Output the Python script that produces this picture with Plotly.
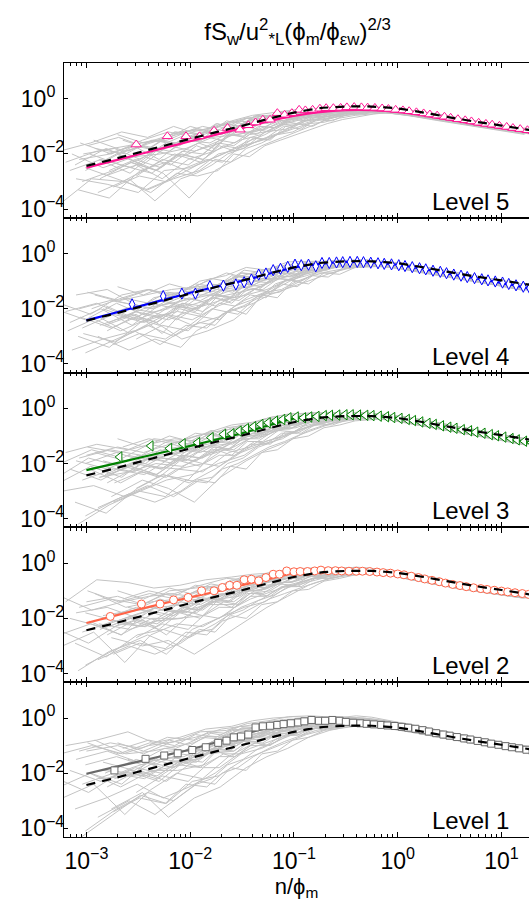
import plotly.graph_objects as go
from plotly.subplots import make_subplots

# ---------------- data (all values are log10) ----------------
LEVELS = ["Level 5", "Level 4", "Level 3", "Level 2", "Level 1"]

# fitted model curves, sampled at FIT_LOGX (log10 n/phi_m)
FIT_LOGX = [-3.0, -2.75, -2.5, -2.25, -2.0, -1.75, -1.5, -1.25, -1.0, -0.75,
            -0.5, -0.25, 0.0, 0.25, 0.5, 0.75, 1.0, 1.27]
DASHED_REF = [-2.43, -2.20, -1.95, -1.70, -1.45, -1.21, -0.98, -0.73, -0.50, -0.34,
              -0.28, -0.28, -0.35, -0.50, -0.67, -0.83, -0.97, -1.13]
FIT_L5 = [-2.50, -2.26, -2.02, -1.78, -1.54, -1.30, -1.06, -0.82, -0.62, -0.48,
          -0.41, -0.41, -0.47, -0.60, -0.76, -0.92, -1.06, -1.22]
FIT_L4 = [-2.42, -2.17, -1.92, -1.67, -1.42, -1.20, -0.99, -0.74, -0.50, -0.37,
          -0.30, -0.32, -0.41, -0.56, -0.74, -0.90, -1.06, -1.27]
FIT_L3 = [-2.24, -2.02, -1.80, -1.58, -1.36, -1.13, -0.90, -0.62, -0.36, -0.27,
          -0.24, -0.26, -0.35, -0.52, -0.70, -0.87, -1.04, -1.24]
FIT_L2 = [-2.17, -1.93, -1.68, -1.45, -1.24, -1.03, -0.80, -0.58, -0.35, -0.26,
          -0.24, -0.28, -0.38, -0.57, -0.76, -0.92, -1.06, -1.20]
FIT_L1 = [-2.02, -1.80, -1.58, -1.36, -1.14, -0.88, -0.60, -0.36, -0.21, -0.12,
          -0.09, -0.17, -0.30, -0.47, -0.65, -0.82, -0.99, -1.17]

# bin-averaged spectra (markers): shared frequency bins, shifted per level by phi_m
MARKER_BIN_LOG = [0.00, 0.30, 0.48, 0.61, 0.75, 0.88, 1.00, 1.08, 1.15, 1.22, 1.29, 1.36,
                  1.43, 1.50, 1.57, 1.63, 1.70, 1.77, 1.83, 1.90, 1.97, 2.03, 2.10, 2.17,
                  2.23, 2.30, 2.37, 2.43, 2.50, 2.57, 2.63, 2.70, 2.77, 2.83, 2.90, 2.97,
                  3.03, 3.10, 3.17, 3.23, 3.30, 3.37, 3.43, 3.50, 3.57, 3.63, 3.70, 3.77,
                  3.83, 3.90, 3.97, 4.03, 4.10]
MARKER_SHIFT = [-2.52, -2.56, -2.68, -2.77, -2.73]
MARK_L5 = [-1.66, -1.36, -1.36, -1.36, -1.16, -1.06, -1.12, -0.96, -0.86, -0.76, -0.76, -0.52,
           -0.58, -0.52, -0.40, -0.42, -0.40, -0.36, -0.34, -0.34, -0.33, -0.31, -0.30, -0.31,
           -0.32, -0.33, -0.35, -0.37, -0.40, -0.42, -0.45, -0.49, -0.53, -0.57, -0.61, -0.65,
           -0.69, -0.74, -0.78, -0.82, -0.87, -0.91, -0.94, -0.98, -1.02, -1.06, -1.10, -1.14,
           -1.18, -1.22, -1.26, -1.30, -1.34]
MARK_L4 = [-1.84, -1.54, -1.45, -1.45, -1.18, -1.16, -1.12, -1.04, -0.94, -0.76, -0.72, -0.60,
           -0.55, -0.48, -0.40, -0.42, -0.40, -0.46, -0.34, -0.34, -0.32, -0.31, -0.30, -0.30,
           -0.31, -0.33, -0.35, -0.37, -0.39, -0.42, -0.45, -0.49, -0.53, -0.57, -0.62, -0.66,
           -0.71, -0.76, -0.80, -0.85, -0.89, -0.93, -0.97, -1.01, -1.05, -1.10, -1.15, -1.20,
           -1.25, -1.30, -1.35, -1.40, -1.45]
MARK_L3 = [-1.76, -1.36, -1.45, -1.28, -1.24, -1.06, -0.94, -0.92, -0.82, -0.73, -0.66, -0.58,
           -0.52, -0.46, -0.40, -0.34, -0.31, -0.34, -0.31, -0.29, -0.26, -0.25, -0.24, -0.23,
           -0.23, -0.24, -0.25, -0.26, -0.28, -0.30, -0.33, -0.36, -0.40, -0.44, -0.49, -0.54,
           -0.58, -0.63, -0.68, -0.72, -0.77, -0.81, -0.86, -0.90, -0.95, -0.99, -1.04, -1.09,
           -1.14, -1.19, -1.24, -1.29, -1.34]
MARK_L2 = [-1.93, -1.48, -1.48, -1.33, -1.24, -1.00, -1.00, -0.88, -0.80, -0.80, -0.60, -0.58,
           -0.64, -0.52, -0.40, -0.40, -0.28, -0.31, -0.30, -0.30, -0.28, -0.25, -0.27, -0.27,
           -0.28, -0.29, -0.29, -0.29, -0.30, -0.32, -0.34, -0.36, -0.39, -0.42, -0.47, -0.52,
           -0.57, -0.62, -0.67, -0.72, -0.77, -0.81, -0.85, -0.89, -0.92, -0.95, -0.98, -1.01,
           -1.04, -1.07, -1.10, -1.13, -1.16]
MARK_L1 = [-1.90, -1.48, -1.36, -1.28, -1.16, -1.06, -0.90, -0.82, -0.70, -0.67, -0.60, -0.34,
           -0.30, -0.28, -0.25, -0.22, -0.19, -0.16, -0.12, -0.07, -0.10, -0.10, -0.07, -0.10,
           -0.14, -0.17, -0.19, -0.21, -0.23, -0.25, -0.27, -0.29, -0.32, -0.35, -0.39, -0.44,
           -0.49, -0.55, -0.60, -0.64, -0.69, -0.74, -0.78, -0.83, -0.88, -0.93, -0.97, -1.02,
           -1.06, -1.10, -1.15, -1.19, -1.23]

N = None
# individual spectra (grey): three sampling sets, each run shifted along x by its own phi_m
GREY_LOGX = [-3.2, -2.9, -2.6, -2.35, -2.1, -1.85, -1.6, -1.4, -1.2, -1.0, -0.8,
             -0.6, -0.4, -0.2, 0.0, 0.2, 0.4, 0.6, 0.8, 1.0, 1.3]
GREY_SHIFT = [0.0, 0.08, -0.06, 0.12, -0.1, 0.04, -0.13, 0.1, -0.03, 0.06, -0.08,
              0.14, -0.05, 0.02, 0.09, -0.11]
GREY_FINE_LOGX = [-3.1, -2.8, -2.5, -2.25, -2.0, -1.85, -1.7, -1.55, -1.4, -1.25, -1.1, -0.95,
                  -0.8, -0.65, -0.5, -0.35, -0.2, -0.05, 0.1, 0.3, 0.5, 0.7, 0.9, 1.1, 1.3]
GREY_FINE_SHIFT = [0.03, -0.07, 0.11, -0.02, 0.06, -0.12, 0.09, -0.04, 0.13, -0.09]
GREY_MID_LOGX = [-2.7, -2.45, -2.2, -2.0, -1.8, -1.65, -1.5, -1.35, -1.2, -1.05, -0.9,
                 -0.75, -0.6, -0.45, -0.3, -0.15, 0.0, 0.2, 0.45, 0.7, 1.0, 1.3]
GREY_MID_SHIFT = [0.05, -0.08, 0.1, -0.04, 0.0, 0.12, -0.1, 0.07]

GREY_L5 = [
    [-2.3, -1.9, -1.7, -1.5, -1.2, -1.1, -0.8, -0.6, -0.5, -0.4, -0.35, -0.3, -0.32, -0.38, -0.45, -0.55, -0.68, -0.80, -0.93, -1.04, -1.16],
    [N, -2.8, -2.4, -2.9, -2.2, -1.9, -1.5, -1.3, -0.9, -0.7, -0.55, -0.5, -0.45, -0.45, -0.50, -0.60, -0.72, -0.84, -0.97, -1.08, -1.20],
    [-1.9, -1.6, -1.2, -1.4, -1.0, -1.3, -0.9, -0.7, -0.6, -0.55, -0.4, -0.38, -0.36, -0.40, -0.44, -0.55, -0.66, -0.80, -0.92, -1.03, N],
    [-3.3, -3.6, -2.6, -2.3, -2.7, -2.0, -1.8, -1.2, -1.1, -0.8, -0.7, -0.5, -0.48, -0.50, -0.52, -0.62, -0.73, -0.86, -0.98, -1.10, -1.22],
    [N, N, -2.0, -1.7, -1.9, -1.3, -1.5, -0.9, -0.8, -0.5, -0.45, -0.4, -0.38, -0.41, -0.46, -0.56, -0.69, -0.82, -0.94, -1.05, -1.17],
    [-2.6, -2.2, -2.5, -1.8, -1.5, -1.6, -1.1, -1.3, -0.7, -0.6, -0.6, -0.45, -0.43, -0.44, -0.49, -0.59, -0.71, -0.83, -0.96, -1.07, -1.19],
    [N, -2.0, -1.8, -2.2, -1.6, -1.2, -1.0, -0.8, -0.9, -0.5, -0.5, -0.35, -0.33, -0.36, -0.43, -0.53, -0.67, -0.79, -0.92, -1.04, -1.15],
    [-2.9, -3.1, -3.4, -2.6, -2.5, -2.1, -1.7, -1.5, -1.0, -0.9, -0.65, -0.55, -0.5, -0.48, -0.53, -0.62, -0.74, -0.86, -0.98, -1.09, N],
    [N, -1.5, -1.9, -1.6, -1.3, -1.0, -1.2, -0.8, -0.65, -0.6, -0.42, -0.42, -0.38, -0.39, -0.45, -0.54, -0.68, -0.80, -0.93, -1.05, -1.17],
    [-2.0, -2.5, -2.1, -2.0, -1.8, -1.4, -1.3, -1.1, -0.8, -0.7, -0.55, -0.48, -0.42, -0.43, -0.48, -0.58, -0.71, -0.83, -0.95, -1.06, -1.18],
    [N, N, N, -3.3, -2.9, -2.4, -2.0, -1.6, -1.3, -0.9, -0.7, -0.6, -0.52, -0.48, -0.52, -0.61, -0.73, -0.85, -0.97, -1.08, -1.20],
    [-1.6, -2.0, -1.5, -1.2, -1.4, -1.1, -0.7, -0.9, -0.6, -0.45, -0.38, -0.34, -0.34, -0.37, -0.42, -0.52, -0.66, -0.79, -0.92, -1.03, -1.15],
    [-3.8, -2.9, -3.0, -2.5, -2.0, -2.3, -1.4, -1.0, -1.2, -0.75, -0.6, -0.5, -0.46, -0.46, -0.50, -0.60, -0.72, -0.84, -0.97, -1.08, -1.19],
    [N, -2.2, -2.7, -1.9, -2.1, -1.7, -1.3, -1.2, -0.95, -0.65, -0.5, -0.45, -0.40, -0.41, -0.47, -0.57, -0.70, -0.82, -0.95, -1.06, -1.18],
    [-2.4, -1.8, -2.3, -2.7, -3.6, -2.6, -2.1, -1.7, -1.4, -1.1, -0.8, -0.55, -0.5, -0.47, -0.51, -0.60, -0.72, -0.84, -0.96, -1.07, N],
    [N, -2.6, -2.0, -2.4, -1.7, -1.9, -1.6, -1.0, -0.85, -0.7, -0.48, -0.4, -0.37, -0.40, -0.45, -0.55, -0.69, -0.81, -0.94, -1.05, -1.17],
]
GREY_FINE_L5 = [
    [-2.2, -2.0, -1.6, -1.5, -1.1, -1.2, -0.9, -1.0, -0.7, -0.75, -0.5, -0.55, -0.35, -0.4, -0.3, -0.35, -0.3, -0.38, -0.45, -0.56, -0.70, -0.84, -0.95, -1.08, -1.20],
    [N, -2.9, -2.3, -2.6, -1.9, -1.6, -1.8, -1.3, -1.4, -1.0, -1.05, -0.75, -0.8, -0.55, -0.6, -0.45, -0.5, -0.5, -0.56, -0.67, -0.80, -0.92, -1.04, -1.15, -1.27],
    [-1.7, -1.4, -1.8, -1.2, -1.3, -0.9, -1.1, -0.8, -0.6, -0.7, -0.45, -0.5, -0.3, -0.38, -0.28, -0.33, -0.32, -0.4, -0.48, -0.58, -0.72, -0.86, -0.97, -1.09, -1.21],
    [N, N, -2.8, -2.2, -2.4, -2.0, -1.5, -1.6, -1.2, -1.1, -0.8, -0.9, -0.6, -0.65, -0.5, -0.52, -0.46, -0.5, -0.55, -0.66, -0.78, -0.91, -1.02, -1.14, -1.26],
    [-3.0, -2.6, -2.1, -2.4, -1.7, -1.9, -1.3, -1.35, -1.0, -1.05, -0.75, -0.6, -0.65, -0.45, -0.45, -0.38, -0.4, -0.44, -0.51, -0.61, -0.75, -0.88, -0.99, -1.11, -1.23],
    [N, -1.8, -2.0, -1.5, -1.6, -1.3, -1.2, -0.9, -1.0, -0.6, -0.65, -0.45, -0.5, -0.35, -0.36, -0.3, -0.36, -0.41, -0.48, -0.6, -0.73, -0.86, -0.98, -1.10, -1.22],
    [-2.5, -2.9, -3.3, -2.9, -2.6, -2.2, -2.3, -1.8, -1.6, -1.3, -1.2, -0.9, -0.85, -0.7, -0.6, -0.55, -0.5, -0.52, -0.57, -0.68, -0.80, -0.93, -1.04, -1.16, N],
    [N, -2.3, -1.7, -1.9, -1.4, -1.5, -1.0, -1.1, -0.8, -0.85, -0.55, -0.6, -0.4, -0.45, -0.33, -0.37, -0.35, -0.42, -0.49, -0.60, -0.73, -0.87, -0.98, -1.10, -1.22],
    [-2.0, -2.4, -2.7, -2.0, -2.2, -1.7, -1.9, -1.4, -1.5, -1.2, -0.9, -1.0, -0.7, -0.6, -0.55, -0.47, -0.45, -0.48, -0.54, -0.64, -0.77, -0.90, -1.01, -1.13, -1.25],
    [N, -3.4, -2.9, -3.7, -2.9, -2.7, -2.4, -2.0, -1.8, -1.5, -1.3, -1.1, -0.8, -0.7, -0.55, -0.5, -0.44, -0.47, -0.53, -0.63, -0.76, -0.89, -1.00, -1.12, -1.24],
]
GREY_MID_L5 = [
    [-1.5, -1.8, -1.2, -1.4, -0.9, -1.0, -0.7, -0.8, -0.5, -0.6, -0.4, -0.45, -0.3, -0.35, -0.3, -0.36, -0.42, -0.52, -0.68, -0.84, -1.01, -1.19],
    [-2.6, -2.2, -2.5, -1.9, -2.0, -1.6, -1.7, -1.3, -1.2, -0.95, -0.9, -0.7, -0.65, -0.5, -0.5, -0.48, -0.52, -0.62, -0.78, -0.94, -1.11, -1.29],
    [-1.9, -1.5, -1.7, -1.2, -1.3, -1.0, -1.05, -0.75, -0.8, -0.55, -0.6, -0.4, -0.42, -0.33, -0.36, -0.38, -0.43, -0.54, -0.70, -0.86, -1.03, -1.21],
    [-3.2, -2.8, -3.0, -2.5, -2.2, -2.3, -1.8, -1.6, -1.4, -1.2, -1.0, -0.8, -0.7, -0.6, -0.5, -0.47, -0.5, -0.6, -0.76, -0.92, -1.09, -1.27],
    [-1.3, -1.6, -1.4, -1.0, -1.2, -0.8, -0.9, -0.6, -0.7, -0.45, -0.5, -0.32, -0.38, -0.28, -0.32, -0.35, -0.41, -0.51, -0.67, -0.83, -1.00, N],
    [-2.3, -2.6, -2.0, -2.2, -1.7, -1.8, -1.4, -1.5, -1.0, -1.1, -0.75, -0.8, -0.55, -0.55, -0.45, -0.44, -0.48, -0.58, -0.74, -0.90, -1.07, -1.25],
    [-2.0, -1.7, -2.2, -1.6, -1.5, -1.3, -1.2, -1.0, -0.9, -0.7, -0.7, -0.55, -0.5, -0.42, -0.4, -0.4, -0.45, -0.55, -0.71, -0.87, -1.04, -1.22],
    [-3.0, -3.4, -2.7, -2.8, -2.6, -2.0, -2.1, -1.7, -1.5, -1.3, -1.1, -0.9, -0.75, -0.65, -0.55, -0.5, -0.52, -0.62, -0.77, -0.93, -1.10, -1.28],
]
GREY_L4 = [
    [-2.1, -1.8, -2.3, -1.6, -1.4, -1.3, -0.9, -0.7, -0.5, -0.4, -0.3, -0.25, -0.25, -0.30, -0.38, -0.50, -0.64, -0.77, -0.90, -1.03, -1.18],
    [N, -2.6, -2.2, -2.9, -1.9, -1.6, -1.4, -1.0, -0.8, -0.55, -0.45, -0.38, -0.35, -0.36, -0.43, -0.55, -0.69, -0.82, -0.95, -1.08, -1.23],
    [-1.8, -2.2, -1.5, -1.3, -1.6, -1.0, -0.8, -0.5, -0.6, -0.3, -0.28, -0.27, -0.27, -0.31, -0.39, -0.51, -0.65, -0.78, -0.91, -1.04, N],
    [-3.0, -3.4, -2.5, -2.2, -2.6, -2.3, -1.7, -1.4, -1.0, -0.8, -0.55, -0.45, -0.4, -0.40, -0.46, -0.57, -0.71, -0.83, -0.96, -1.09, -1.24],
    [N, N, -2.4, -2.0, -1.8, -2.1, -1.3, -1.2, -0.7, -0.6, -0.4, -0.35, -0.3, -0.33, -0.41, -0.53, -0.67, -0.80, -0.93, -1.06, -1.21],
    [-2.5, -2.0, -2.6, -1.9, -1.7, -1.5, -1.6, -0.9, -0.9, -0.45, -0.42, -0.32, -0.33, -0.35, -0.42, -0.54, -0.68, -0.81, -0.94, -1.07, -1.22],
    [N, -2.9, -3.2, -2.7, -2.2, -2.4, -1.9, -1.6, -1.2, -0.9, -0.7, -0.5, -0.45, -0.42, -0.47, -0.58, -0.72, -0.84, -0.97, -1.10, N],
    [-1.5, -1.3, -1.9, -1.7, -1.2, -1.4, -1.0, -0.8, -0.45, -0.35, -0.32, -0.28, -0.28, -0.32, -0.40, -0.52, -0.66, -0.79, -0.92, -1.05, -1.20],
    [N, -2.4, -2.0, -2.1, -2.4, -1.8, -1.2, -1.1, -0.8, -0.6, -0.48, -0.4, -0.36, -0.37, -0.44, -0.56, -0.70, -0.83, -0.96, -1.08, -1.23],
    [-3.5, -3.1, -2.8, -3.3, -2.7, -2.0, -2.2, -1.5, -1.4, -1.0, -0.6, -0.42, -0.38, -0.38, -0.45, -0.56, -0.70, -0.82, -0.95, -1.07, -1.22],
    [N, N, -1.7, -1.5, -1.3, -1.2, -1.1, -0.6, -0.7, -0.4, -0.35, -0.3, -0.29, -0.33, -0.41, -0.52, -0.66, -0.79, -0.92, -1.05, -1.20],
    [-2.3, -2.7, -2.2, -2.4, -2.0, -1.7, -1.5, -1.3, -0.95, -0.7, -0.5, -0.38, -0.34, -0.35, -0.42, -0.54, -0.68, -0.81, -0.94, -1.06, -1.21],
    [N, -2.0, -1.6, -1.8, -1.5, -1.1, -0.7, -0.9, -0.55, -0.5, -0.38, -0.3, -0.31, -0.34, -0.40, -0.52, -0.66, -0.80, -0.93, -1.06, N],
    [-2.8, -2.3, -2.9, -2.5, -3.1, -2.8, -2.4, -1.8, -1.1, -0.85, -0.55, -0.42, -0.37, -0.36, -0.43, -0.55, -0.69, -0.82, -0.95, -1.08, -1.22],
    [N, -1.9, -2.4, -2.0, -1.6, -1.9, -1.4, -1.2, -0.6, -0.55, -0.45, -0.36, -0.32, -0.34, -0.41, -0.53, -0.67, -0.80, -0.93, -1.06, -1.21],
    [-2.0, -2.4, -1.8, -2.2, -2.0, -1.3, -1.5, -0.7, -0.8, -0.65, -0.38, -0.34, -0.33, -0.36, -0.44, -0.55, -0.69, -0.81, -0.94, -1.07, -1.22],
]
GREY_FINE_L4 = [
    [-2.0, -1.7, -1.9, -1.4, -1.5, -1.1, -1.2, -0.8, -0.9, -0.55, -0.6, -0.35, -0.4, -0.25, -0.28, -0.22, -0.28, -0.33, -0.42, -0.55, -0.69, -0.83, -0.96, -1.10, -1.25],
    [N, -2.6, -2.2, -2.5, -1.8, -2.0, -1.5, -1.6, -1.1, -1.2, -0.8, -0.85, -0.55, -0.6, -0.42, -0.45, -0.4, -0.45, -0.52, -0.65, -0.79, -0.92, -1.05, -1.19, -1.33],
    [-1.4, -1.7, -1.3, -1.6, -1.2, -1.3, -0.9, -1.0, -0.65, -0.7, -0.45, -0.5, -0.3, -0.35, -0.25, -0.27, -0.3, -0.36, -0.44, -0.57, -0.71, -0.84, -0.97, -1.11, -1.26],
    [N, N, -3.1, -2.6, -2.8, -2.3, -2.4, -1.9, -1.7, -1.4, -1.3, -1.0, -0.8, -0.65, -0.55, -0.45, -0.42, -0.46, -0.53, -0.66, -0.80, -0.93, -1.06, -1.20, -1.34],
    [-2.7, -2.2, -2.5, -1.9, -2.0, -1.6, -1.7, -1.2, -1.3, -0.9, -0.95, -0.6, -0.65, -0.4, -0.42, -0.33, -0.36, -0.4, -0.48, -0.61, -0.75, -0.88, -1.01, -1.15, -1.30],
    [N, -1.5, -1.8, -2.0, -1.5, -1.4, -1.1, -1.15, -0.8, -0.85, -0.55, -0.5, -0.45, -0.3, -0.32, -0.27, -0.31, -0.37, -0.45, -0.58, -0.72, -0.85, -0.98, -1.12, -1.27],
    [-3.6, -3.1, -2.6, -3.0, -2.5, -2.6, -2.0, -2.2, -1.5, -1.6, -1.0, -1.1, -0.7, -0.75, -0.5, -0.48, -0.45, -0.48, -0.55, -0.67, -0.81, -0.94, -1.07, -1.21, N],
    [N, -2.0, -2.4, -1.7, -1.9, -1.5, -1.3, -1.4, -1.0, -0.95, -0.7, -0.75, -0.45, -0.5, -0.35, -0.36, -0.35, -0.4, -0.47, -0.6, -0.73, -0.86, -0.99, -1.13, -1.28],
    [-2.3, -2.8, -2.3, -2.1, -2.3, -1.8, -1.9, -1.5, -1.6, -1.1, -1.2, -0.8, -0.85, -0.5, -0.5, -0.4, -0.38, -0.42, -0.5, -0.62, -0.76, -0.89, -1.02, -1.16, -1.31],
    [N, -3.0, -3.5, -3.1, -3.4, -2.8, -2.5, -2.1, -1.9, -1.6, -1.3, -1.0, -0.75, -0.6, -0.45, -0.4, -0.37, -0.41, -0.49, -0.61, -0.75, -0.88, -1.01, -1.15, -1.30],
]
GREY_MID_L4 = [
    [-1.6, -1.3, -1.5, -1.1, -1.2, -0.8, -0.9, -0.6, -0.65, -0.4, -0.45, -0.28, -0.3, -0.22, -0.25, -0.29, -0.36, -0.48, -0.65, -0.82, -1.01, -1.24],
    [-2.5, -2.1, -2.3, -1.8, -1.9, -1.5, -1.6, -1.2, -1.1, -0.85, -0.8, -0.6, -0.55, -0.45, -0.42, -0.45, -0.5, -0.6, -0.76, -0.93, -1.12, -1.34],
    [-1.8, -2.0, -1.6, -1.7, -1.3, -1.35, -1.0, -1.05, -0.7, -0.75, -0.5, -0.5, -0.35, -0.36, -0.3, -0.33, -0.39, -0.51, -0.68, -0.85, -1.04, -1.27],
    [-3.3, -2.9, -3.1, -2.6, -2.7, -2.2, -2.0, -1.8, -1.5, -1.3, -1.1, -0.9, -0.7, -0.55, -0.47, -0.45, -0.49, -0.59, -0.75, -0.92, -1.11, -1.33],
    [-1.2, -1.5, -1.1, -1.3, -0.9, -1.0, -0.7, -0.75, -0.5, -0.5, -0.32, -0.35, -0.24, -0.25, -0.24, -0.3, -0.37, -0.49, -0.66, -0.83, -1.02, N],
    [-2.2, -2.5, -1.9, -2.1, -1.6, -1.7, -1.3, -1.4, -0.95, -1.0, -0.7, -0.7, -0.5, -0.48, -0.4, -0.41, -0.46, -0.57, -0.73, -0.90, -1.09, -1.31],
    [-2.8, -2.3, -2.6, -2.0, -2.2, -1.6, -1.8, -1.3, -1.3, -0.9, -0.95, -0.6, -0.62, -0.42, -0.45, -0.42, -0.47, -0.57, -0.74, -0.91, -1.10, -1.32],
    [-2.0, -1.8, -2.0, -1.5, -1.5, -1.3, -1.2, -0.95, -0.9, -0.65, -0.6, -0.45, -0.42, -0.35, -0.33, -0.36, -0.42, -0.53, -0.70, -0.87, -1.06, -1.29],
]
GREY_L3 = [
    [-1.6, -1.3, -1.5, -1.1, -1.2, -0.9, -0.6, -0.5, -0.3, -0.2, -0.15, -0.18, -0.2, -0.24, -0.32, -0.45, -0.60, -0.74, -0.87, -1.01, -1.16],
    [N, -2.4, -1.9, -2.2, -1.5, -1.6, -1.1, -0.9, -0.7, -0.4, -0.35, -0.28, -0.27, -0.29, -0.37, -0.50, -0.65, -0.79, -0.92, -1.06, -1.21],
    [-2.7, -2.1, -2.5, -1.8, -2.0, -1.4, -1.3, -0.8, -0.5, -0.45, -0.3, -0.22, -0.22, -0.26, -0.34, -0.47, -0.62, -0.76, -0.89, -1.03, -1.18],
    [-4.2, -3.5, -3.0, -2.6, -2.4, -2.0, -1.7, -1.2, -1.0, -0.7, -0.5, -0.35, -0.32, -0.33, -0.40, -0.52, -0.66, -0.80, -0.93, -1.07, -1.22],
    [N, -1.7, -1.4, -1.6, -1.3, -1.0, -0.8, -0.7, -0.4, -0.3, -0.22, -0.2, -0.2, -0.25, -0.33, -0.46, -0.61, -0.75, -0.88, -1.02, -1.17],
    [-2.2, -2.6, -2.0, -1.7, -1.6, -1.2, -1.0, -0.6, -0.6, -0.35, -0.3, -0.25, -0.25, -0.28, -0.36, -0.49, -0.64, -0.78, -0.91, -1.05, N],
    [N, N, -2.7, -2.3, -2.5, -1.9, -1.5, -1.1, -0.8, -0.5, -0.4, -0.3, -0.28, -0.30, -0.38, -0.50, -0.65, -0.79, -0.92, -1.06, -1.20],
    [-1.9, -2.2, -1.7, -1.9, -1.4, -1.1, -0.75, -0.9, -0.45, -0.25, -0.2, -0.18, -0.21, -0.25, -0.33, -0.46, -0.61, -0.75, -0.88, -1.02, -1.17],
    [-3.0, -2.8, -3.2, -2.8, -2.2, -2.3, -1.6, -1.4, -0.9, -0.6, -0.45, -0.32, -0.3, -0.31, -0.38, -0.51, -0.66, -0.79, -0.92, -1.06, -1.21],
    [N, -1.9, -2.2, -1.5, -1.8, -1.3, -0.9, -1.0, -0.55, -0.45, -0.28, -0.24, -0.23, -0.27, -0.35, -0.48, -0.63, -0.77, -0.90, -1.04, -1.19],
    [-2.5, -1.8, -2.1, -2.0, -1.3, -1.5, -1.2, -0.7, -0.7, -0.3, -0.25, -0.2, -0.22, -0.26, -0.34, -0.47, -0.62, -0.76, -0.89, -1.03, -1.18],
    [N, -3.2, -2.6, -2.9, -3.4, -2.5, -1.9, -1.5, -1.2, -0.8, -0.55, -0.38, -0.33, -0.33, -0.40, -0.52, -0.67, -0.80, -0.93, -1.07, N],
    [-2.0, -1.5, -1.8, -1.3, -1.1, -1.2, -0.7, -0.6, -0.35, -0.2, -0.18, -0.16, -0.19, -0.23, -0.31, -0.44, -0.59, -0.73, -0.86, -1.00, -1.15],
    [N, -2.5, -2.3, -2.0, -2.1, -1.7, -1.4, -1.0, -0.65, -0.55, -0.35, -0.27, -0.26, -0.29, -0.37, -0.50, -0.65, -0.78, -0.91, -1.05, -1.20],
    [-3.4, -3.8, -2.9, -2.4, -2.7, -2.2, -1.6, -1.3, -1.1, -0.65, -0.45, -0.33, -0.29, -0.30, -0.37, -0.50, -0.64, -0.78, -0.91, -1.05, -1.20],
    [N, -2.0, -1.6, -1.9, -1.7, -1.4, -1.2, -0.8, -0.5, -0.38, -0.3, -0.23, -0.24, -0.28, -0.36, -0.48, -0.63, -0.77, -0.90, -1.04, -1.19],
]
GREY_FINE_L3 = [
    [-1.8, -1.5, -1.7, -1.2, -1.3, -0.9, -1.0, -0.6, -0.7, -0.4, -0.45, -0.25, -0.3, -0.18, -0.2, -0.17, -0.22, -0.28, -0.37, -0.51, -0.66, -0.80, -0.93, -1.07, -1.22],
    [N, -2.5, -2.1, -2.4, -1.7, -1.8, -1.4, -1.5, -1.0, -1.0, -0.7, -0.7, -0.45, -0.45, -0.33, -0.34, -0.34, -0.38, -0.46, -0.60, -0.74, -0.88, -1.01, -1.15, -1.30],
    [-1.4, -1.6, -1.3, -1.5, -1.1, -1.1, -0.8, -0.85, -0.55, -0.5, -0.35, -0.35, -0.2, -0.22, -0.18, -0.2, -0.24, -0.3, -0.39, -0.53, -0.67, -0.81, -0.94, -1.08, -1.23],
    [N, N, -2.9, -2.4, -2.6, -2.0, -2.1, -1.7, -1.4, -1.2, -1.0, -0.8, -0.6, -0.5, -0.4, -0.36, -0.35, -0.39, -0.47, -0.61, -0.75, -0.88, -1.01, -1.15, -1.30],
    [-2.6, -2.2, -2.4, -1.8, -1.9, -1.5, -1.5, -1.1, -1.1, -0.75, -0.75, -0.5, -0.5, -0.33, -0.35, -0.28, -0.3, -0.35, -0.44, -0.58, -0.72, -0.86, -0.99, -1.13, -1.28],
    [N, -1.6, -1.9, -1.6, -1.4, -1.2, -0.95, -1.05, -0.7, -0.7, -0.45, -0.4, -0.3, -0.25, -0.22, -0.22, -0.26, -0.31, -0.4, -0.54, -0.68, -0.82, -0.95, -1.09, -1.24],
    [-3.9, -3.3, -2.8, -3.2, -2.6, -2.7, -2.1, -2.2, -1.6, -1.5, -1.1, -1.0, -0.7, -0.6, -0.45, -0.4, -0.37, -0.4, -0.48, -0.62, -0.76, -0.89, -1.02, -1.16, N],
    [N, -2.1, -2.3, -1.8, -1.9, -1.5, -1.2, -1.3, -0.85, -0.8, -0.6, -0.6, -0.35, -0.38, -0.27, -0.3, -0.3, -0.35, -0.43, -0.57, -0.71, -0.85, -0.98, -1.12, -1.27],
    [-2.2, -2.7, -2.1, -2.2, -2.0, -1.7, -1.7, -1.3, -1.3, -0.9, -0.9, -0.6, -0.6, -0.38, -0.38, -0.3, -0.31, -0.36, -0.45, -0.59, -0.73, -0.87, -1.00, -1.14, -1.29],
    [N, -3.6, -3.1, -3.4, -3.0, -2.6, -2.5, -2.0, -1.8, -1.4, -1.2, -0.9, -0.7, -0.5, -0.4, -0.33, -0.32, -0.37, -0.45, -0.59, -0.73, -0.87, -1.00, -1.14, -1.29],
]
GREY_MID_L3 = [
    [-1.4, -1.1, -1.3, -0.9, -1.0, -0.7, -0.75, -0.5, -0.55, -0.3, -0.35, -0.18, -0.22, -0.14, -0.18, -0.22, -0.29, -0.43, -0.61, -0.79, -0.99, -1.21],
    [-2.4, -2.0, -2.2, -1.7, -1.8, -1.4, -1.5, -1.1, -1.0, -0.75, -0.7, -0.5, -0.45, -0.36, -0.34, -0.37, -0.42, -0.55, -0.72, -0.90, -1.10, -1.32],
    [-1.7, -1.9, -1.5, -1.6, -1.2, -1.25, -0.9, -0.95, -0.6, -0.6, -0.4, -0.4, -0.27, -0.28, -0.22, -0.26, -0.32, -0.46, -0.63, -0.81, -1.01, -1.23],
    [-3.4, -3.0, -3.2, -2.6, -2.7, -2.2, -2.0, -1.7, -1.4, -1.2, -0.95, -0.75, -0.55, -0.45, -0.38, -0.37, -0.41, -0.54, -0.71, -0.89, -1.09, -1.31],
    [-1.1, -1.4, -1.0, -1.2, -0.8, -0.9, -0.6, -0.65, -0.4, -0.4, -0.22, -0.25, -0.15, -0.17, -0.16, -0.22, -0.3, -0.44, -0.61, -0.79, -0.99, N],
    [-2.1, -2.4, -1.8, -2.0, -1.5, -1.6, -1.2, -1.3, -0.85, -0.9, -0.55, -0.6, -0.4, -0.38, -0.32, -0.34, -0.4, -0.53, -0.70, -0.88, -1.08, -1.30],
    [-2.7, -2.2, -2.5, -1.9, -2.1, -1.5, -1.7, -1.2, -1.2, -0.8, -0.85, -0.5, -0.52, -0.35, -0.37, -0.35, -0.4, -0.53, -0.70, -0.88, -1.08, -1.30],
    [-1.9, -1.7, -1.9, -1.4, -1.4, -1.2, -1.1, -0.85, -0.8, -0.55, -0.5, -0.36, -0.34, -0.28, -0.27, -0.3, -0.36, -0.49, -0.66, -0.84, -1.04, -1.26],
]
GREY_L2 = [
    [-1.4, -0.6, -0.7, -0.9, -0.8, -0.6, -0.5, -0.4, -0.35, -0.2, -0.17, -0.17, -0.19, -0.24, -0.33, -0.48, -0.64, -0.78, -0.92, -1.03, -1.14],
    [N, -2.0, -1.6, -1.9, -1.2, -1.3, -0.9, -0.7, -0.6, -0.4, -0.3, -0.27, -0.27, -0.31, -0.39, -0.54, -0.69, -0.83, -0.96, -1.07, -1.17],
    [-2.6, -2.2, -2.6, -1.7, -1.9, -1.4, -1.1, -0.95, -0.55, -0.5, -0.36, -0.3, -0.29, -0.33, -0.41, -0.56, -0.71, -0.85, -0.98, -1.09, N],
    [-3.9, -3.2, -2.8, -3.3, -2.4, -2.0, -1.6, -1.4, -0.9, -0.7, -0.5, -0.35, -0.33, -0.35, -0.42, -0.57, -0.72, -0.86, -0.99, -1.10, -1.19],
    [N, -1.4, -1.2, -1.5, -1.0, -0.9, -0.8, -0.5, -0.45, -0.28, -0.22, -0.2, -0.21, -0.27, -0.35, -0.50, -0.66, -0.80, -0.93, -1.04, -1.15],
    [-2.0, -2.3, -1.9, -1.6, -1.5, -1.1, -0.9, -0.9, -0.45, -0.3, -0.25, -0.24, -0.24, -0.29, -0.37, -0.52, -0.67, -0.81, -0.94, -1.05, -1.16],
    [N, N, -2.3, -2.0, -2.6, -1.8, -1.3, -1.2, -0.75, -0.6, -0.45, -0.32, -0.3, -0.33, -0.40, -0.55, -0.70, -0.84, -0.97, -1.08, -1.18],
    [-1.8, -1.6, -2.0, -1.4, -1.3, -1.4, -0.7, -0.6, -0.6, -0.3, -0.2, -0.18, -0.2, -0.26, -0.35, -0.50, -0.65, -0.79, -0.93, -1.04, -1.15],
    [-3.0, -2.5, -3.6, -2.6, -2.2, -2.3, -1.8, -1.1, -1.0, -0.55, -0.4, -0.3, -0.29, -0.32, -0.40, -0.55, -0.70, -0.84, -0.97, -1.08, N],
    [N, -1.9, -1.7, -1.3, -1.6, -1.2, -1.0, -0.8, -0.5, -0.4, -0.27, -0.23, -0.23, -0.28, -0.37, -0.51, -0.67, -0.81, -0.94, -1.05, -1.16],
    [-2.4, -2.9, -2.2, -2.3, -1.8, -1.6, -1.3, -0.85, -0.7, -0.45, -0.33, -0.28, -0.27, -0.31, -0.39, -0.53, -0.69, -0.83, -0.96, -1.07, -1.17],
    [N, -2.7, -3.0, -2.8, -3.3, -2.7, -2.1, -1.6, -1.2, -0.8, -0.55, -0.4, -0.34, -0.35, -0.42, -0.57, -0.72, -0.86, -0.99, -1.10, -1.19],
    [-1.2, -1.7, -1.4, -1.2, -1.1, -0.8, -0.55, -0.6, -0.35, -0.22, -0.2, -0.2, -0.22, -0.26, -0.35, -0.49, -0.65, -0.79, -0.92, -1.04, N],
    [N, -2.2, -2.4, -2.1, -2.0, -1.5, -1.5, -1.0, -0.8, -0.5, -0.35, -0.27, -0.26, -0.30, -0.38, -0.53, -0.68, -0.82, -0.95, -1.06, -1.17],
    [-2.9, -3.4, -2.6, -2.4, -2.7, -2.2, -1.6, -1.3, -0.85, -0.65, -0.42, -0.3, -0.3, -0.33, -0.41, -0.55, -0.70, -0.84, -0.97, -1.08, -1.18],
    [N, -1.8, -2.1, -1.8, -1.4, -1.7, -1.2, -0.7, -0.6, -0.35, -0.3, -0.25, -0.25, -0.29, -0.37, -0.52, -0.67, -0.81, -0.94, -1.05, -1.16],
]
GREY_FINE_L2 = [
    [-1.6, -1.3, -1.5, -1.1, -1.2, -0.85, -0.9, -0.6, -0.65, -0.4, -0.45, -0.25, -0.3, -0.18, -0.2, -0.18, -0.24, -0.3, -0.4, -0.56, -0.71, -0.85, -0.96, -1.08, -1.18],
    [N, -2.4, -2.0, -2.2, -1.6, -1.7, -1.3, -1.4, -1.0, -1.0, -0.7, -0.7, -0.45, -0.45, -0.33, -0.35, -0.37, -0.42, -0.5, -0.66, -0.80, -0.93, -1.04, -1.16, -1.26],
    [-1.0, -1.4, -1.1, -1.3, -0.95, -1.0, -0.7, -0.75, -0.5, -0.5, -0.3, -0.32, -0.2, -0.22, -0.17, -0.2, -0.25, -0.32, -0.41, -0.57, -0.72, -0.85, -0.97, -1.09, -1.19],
    [N, N, -2.7, -2.2, -2.4, -1.9, -2.0, -1.6, -1.3, -1.1, -0.9, -0.75, -0.55, -0.48, -0.38, -0.36, -0.37, -0.42, -0.5, -0.66, -0.80, -0.93, -1.04, -1.16, -1.26],
    [-2.5, -2.1, -2.3, -1.7, -1.8, -1.4, -1.4, -1.0, -1.0, -0.7, -0.7, -0.45, -0.45, -0.32, -0.33, -0.3, -0.32, -0.38, -0.47, -0.63, -0.78, -0.91, -1.02, -1.14, -1.24],
    [N, -1.1, -1.6, -1.4, -1.3, -1.1, -0.9, -0.95, -0.65, -0.62, -0.4, -0.38, -0.27, -0.25, -0.21, -0.22, -0.27, -0.33, -0.43, -0.59, -0.74, -0.87, -0.98, -1.10, -1.20],
    [-3.7, -3.1, -2.6, -3.0, -2.4, -2.5, -1.9, -2.0, -1.5, -1.4, -1.0, -0.95, -0.65, -0.55, -0.42, -0.38, -0.38, -0.43, -0.51, -0.67, -0.81, -0.94, -1.05, -1.17, N],
    [N, -2.0, -2.2, -1.7, -1.8, -1.4, -1.1, -1.2, -0.8, -0.75, -0.55, -0.55, -0.33, -0.35, -0.26, -0.28, -0.32, -0.37, -0.46, -0.62, -0.77, -0.90, -1.01, -1.13, -1.23],
    [-2.1, -2.6, -2.0, -2.0, -1.9, -1.6, -1.6, -1.2, -1.2, -0.85, -0.85, -0.55, -0.55, -0.36, -0.36, -0.3, -0.33, -0.39, -0.48, -0.64, -0.79, -0.92, -1.03, -1.15, -1.25],
    [N, -3.5, -3.0, -3.3, -2.9, -2.5, -2.4, -1.9, -1.7, -1.35, -1.15, -0.85, -0.65, -0.48, -0.38, -0.33, -0.34, -0.4, -0.49, -0.65, -0.79, -0.92, -1.03, -1.15, -1.25],
]
GREY_MID_L2 = [
    [-1.3, -1.0, -1.2, -0.8, -0.9, -0.6, -0.65, -0.45, -0.5, -0.28, -0.33, -0.18, -0.2, -0.14, -0.19, -0.24, -0.32, -0.47, -0.67, -0.84, -1.02, -1.18],
    [-2.3, -1.9, -2.1, -1.6, -1.7, -1.3, -1.4, -1.0, -0.95, -0.7, -0.65, -0.48, -0.45, -0.36, -0.37, -0.4, -0.45, -0.59, -0.78, -0.95, -1.11, -1.27],
    [-1.6, -1.8, -1.4, -1.5, -1.1, -1.15, -0.85, -0.9, -0.55, -0.55, -0.38, -0.38, -0.27, -0.28, -0.24, -0.28, -0.35, -0.5, -0.69, -0.86, -1.03, -1.19],
    [-3.3, -2.9, -3.1, -2.5, -2.6, -2.1, -1.9, -1.6, -1.3, -1.1, -0.9, -0.7, -0.55, -0.45, -0.4, -0.4, -0.45, -0.59, -0.78, -0.95, -1.11, -1.27],
    [-1.0, -1.3, -0.9, -1.1, -0.75, -0.85, -0.55, -0.6, -0.38, -0.38, -0.22, -0.24, -0.16, -0.17, -0.18, -0.24, -0.32, -0.47, -0.67, -0.84, -1.01, N],
    [-2.0, -2.3, -1.7, -1.9, -1.4, -1.5, -1.1, -1.2, -0.8, -0.85, -0.52, -0.55, -0.38, -0.37, -0.33, -0.36, -0.43, -0.57, -0.76, -0.93, -1.10, -1.26],
    [-2.6, -2.1, -2.4, -1.8, -2.0, -1.4, -1.6, -1.1, -1.1, -0.75, -0.8, -0.48, -0.5, -0.34, -0.37, -0.37, -0.43, -0.57, -0.76, -0.93, -1.10, -1.26],
    [-1.8, -1.6, -1.8, -1.3, -1.3, -1.1, -1.0, -0.8, -0.75, -0.5, -0.48, -0.34, -0.33, -0.28, -0.29, -0.32, -0.39, -0.53, -0.72, -0.89, -1.06, -1.22],
]
GREY_L1 = [
    [-1.0, -0.8, -0.5, -0.9, -0.7, -0.4, -0.3, -0.1, 0.0, 0.05, 0.0, -0.02, -0.05, -0.12, -0.24, -0.39, -0.54, -0.68, -0.82, -0.96, -1.10],
    [N, -2.0, -1.5, -1.8, -1.1, -1.2, -0.8, -0.5, -0.4, -0.2, -0.15, -0.1, -0.12, -0.18, -0.29, -0.43, -0.57, -0.71, -0.84, -0.98, -1.12],
    [-2.5, -2.0, -2.4, -1.6, -1.8, -1.3, -0.9, -0.8, -0.45, -0.35, -0.2, -0.15, -0.15, -0.21, -0.32, -0.46, -0.60, -0.74, -0.87, -1.01, N],
    [-4.4, -3.6, -2.8, -3.1, -2.3, -2.1, -1.5, -1.2, -0.9, -0.6, -0.4, -0.28, -0.25, -0.28, -0.37, -0.50, -0.63, -0.76, -0.89, -1.03, -1.16],
    [N, -1.2, -1.0, -1.3, -0.9, -0.7, -0.4, -0.3, -0.2, -0.05, -0.02, 0.0, -0.05, -0.13, -0.25, -0.40, -0.55, -0.69, -0.83, -0.97, -1.11],
    [-1.9, -2.3, -1.8, -1.5, -1.4, -1.0, -0.6, -0.7, -0.3, -0.25, -0.12, -0.08, -0.1, -0.17, -0.28, -0.42, -0.57, -0.71, -0.84, -0.98, -1.12],
    [N, N, -2.2, -1.9, -2.3, -1.6, -1.1, -0.9, -0.65, -0.4, -0.3, -0.2, -0.2, -0.24, -0.34, -0.47, -0.61, -0.75, -0.88, -1.02, -1.15],
    [-1.5, -1.2, -1.6, -1.1, -1.2, -0.8, -0.5, -0.25, -0.15, -0.1, 0.02, 0.0, -0.03, -0.1, -0.22, -0.37, -0.52, -0.67, -0.81, -0.95, -1.09],
    [-2.9, -2.4, -3.5, -2.6, -2.0, -2.2, -1.4, -1.0, -0.7, -0.5, -0.3, -0.2, -0.18, -0.23, -0.33, -0.46, -0.60, -0.74, -0.87, -1.01, N],
    [N, -1.6, -1.9, -1.4, -1.5, -1.0, -0.9, -0.6, -0.35, -0.15, -0.1, -0.07, -0.09, -0.16, -0.27, -0.41, -0.56, -0.70, -0.83, -0.97, -1.11],
    [-2.2, -2.7, -2.0, -2.1, -1.6, -1.4, -1.0, -0.65, -0.5, -0.3, -0.22, -0.16, -0.15, -0.2, -0.31, -0.45, -0.59, -0.73, -0.86, -1.00, -1.14],
    [N, -3.3, -2.7, -3.6, -2.9, -2.5, -1.8, -1.4, -1.1, -0.7, -0.45, -0.3, -0.25, -0.27, -0.36, -0.49, -0.63, -0.76, -0.89, -1.03, -1.16],
    [-1.3, -1.0, -1.3, -1.0, -0.85, -0.5, -0.45, -0.2, -0.1, 0.05, 0.08, 0.05, 0.0, -0.09, -0.21, -0.36, -0.51, -0.66, -0.80, -0.94, N],
    [N, -2.2, -2.1, -1.9, -1.7, -1.3, -1.2, -0.7, -0.55, -0.35, -0.2, -0.13, -0.13, -0.19, -0.30, -0.44, -0.58, -0.72, -0.85, -0.99, -1.13],
    [-3.3, -2.9, -2.4, -2.9, -2.5, -2.0, -1.3, -1.1, -0.75, -0.45, -0.28, -0.2, -0.19, -0.23, -0.33, -0.47, -0.61, -0.75, -0.88, -1.02, -1.15],
    [N, -1.7, -1.4, -1.7, -1.2, -1.2, -0.7, -0.4, -0.3, -0.2, -0.08, -0.05, -0.07, -0.14, -0.26, -0.40, -0.55, -0.69, -0.82, -0.96, -1.10],
]
GREY_FINE_L1 = [
    [-1.2, -0.9, -1.1, -0.7, -0.8, -0.5, -0.55, -0.3, -0.35, -0.1, -0.15, 0.0, -0.05, 0.05, 0.02, 0.0, -0.1, -0.18, -0.3, -0.45, -0.60, -0.74, -0.88, -1.02, -1.15],
    [N, -2.3, -1.9, -2.1, -1.5, -1.5, -1.1, -1.2, -0.75, -0.7, -0.45, -0.45, -0.28, -0.3, -0.2, -0.2, -0.26, -0.32, -0.42, -0.55, -0.69, -0.83, -0.96, -1.10, -1.23],
    [-0.9, -1.3, -0.9, -1.1, -0.7, -0.75, -0.45, -0.5, -0.25, -0.25, -0.1, -0.12, -0.02, -0.05, 0.0, -0.03, -0.12, -0.2, -0.32, -0.47, -0.61, -0.75, -0.89, -1.03, -1.16],
    [N, N, -2.7, -2.1, -2.3, -1.8, -1.8, -1.4, -1.1, -0.9, -0.7, -0.55, -0.4, -0.32, -0.25, -0.24, -0.28, -0.34, -0.44, -0.57, -0.71, -0.85, -0.98, -1.12, -1.25],
    [-2.4, -2.0, -2.2, -1.6, -1.6, -1.2, -1.2, -0.85, -0.85, -0.55, -0.55, -0.3, -0.32, -0.18, -0.2, -0.18, -0.23, -0.3, -0.4, -0.53, -0.67, -0.81, -0.94, -1.08, -1.21],
    [N, -0.8, -1.3, -1.2, -1.0, -0.9, -0.65, -0.7, -0.4, -0.38, -0.18, -0.16, -0.06, -0.05, 0.02, -0.02, -0.1, -0.19, -0.31, -0.46, -0.60, -0.74, -0.88, -1.02, -1.15],
    [-4.1, -3.3, -2.7, -3.0, -2.3, -2.4, -1.8, -1.9, -1.3, -1.2, -0.8, -0.7, -0.45, -0.38, -0.3, -0.28, -0.3, -0.36, -0.45, -0.58, -0.72, -0.86, -0.99, -1.13, N],
    [N, -1.9, -2.0, -1.5, -1.6, -1.2, -0.95, -1.0, -0.6, -0.55, -0.35, -0.35, -0.2, -0.2, -0.12, -0.14, -0.2, -0.27, -0.38, -0.51, -0.65, -0.79, -0.92, -1.06, -1.19],
    [-2.0, -2.5, -1.9, -1.9, -1.7, -1.4, -1.4, -1.0, -1.0, -0.65, -0.62, -0.38, -0.38, -0.22, -0.22, -0.18, -0.22, -0.29, -0.39, -0.52, -0.66, -0.80, -0.93, -1.07, -1.20],
    [N, -3.6, -3.0, -3.5, -2.8, -2.4, -2.2, -1.7, -1.5, -1.1, -0.9, -0.6, -0.45, -0.3, -0.22, -0.2, -0.24, -0.3, -0.41, -0.54, -0.68, -0.82, -0.95, -1.09, -1.22],
]
GREY_MID_L1 = [
    [-1.1, -0.8, -1.0, -0.6, -0.7, -0.4, -0.45, -0.2, -0.25, -0.05, -0.1, 0.05, 0.02, 0.08, 0.03, -0.07, -0.18, -0.33, -0.53, -0.73, -0.94, -1.14],
    [-2.2, -1.8, -2.0, -1.5, -1.6, -1.1, -1.2, -0.8, -0.75, -0.5, -0.45, -0.3, -0.28, -0.22, -0.26, -0.32, -0.39, -0.51, -0.68, -0.86, -1.05, -1.25],
    [-1.5, -1.7, -1.3, -1.4, -0.95, -1.0, -0.65, -0.7, -0.4, -0.4, -0.2, -0.22, -0.1, -0.12, -0.13, -0.2, -0.28, -0.41, -0.59, -0.77, -0.97, -1.17],
    [-3.4, -2.9, -3.1, -2.4, -2.5, -2.0, -1.8, -1.4, -1.1, -0.85, -0.65, -0.45, -0.35, -0.28, -0.28, -0.32, -0.38, -0.5, -0.67, -0.85, -1.04, -1.24],
    [-0.9, -1.2, -0.8, -1.0, -0.55, -0.65, -0.35, -0.4, -0.15, -0.15, 0.0, -0.02, 0.05, 0.02, -0.03, -0.12, -0.22, -0.36, -0.55, -0.74, -0.94, N],
    [-1.9, -2.2, -1.6, -1.8, -1.3, -1.3, -0.9, -1.0, -0.6, -0.62, -0.35, -0.38, -0.22, -0.22, -0.22, -0.28, -0.36, -0.48, -0.66, -0.84, -1.03, -1.23],
    [-2.5, -2.0, -2.3, -1.7, -1.8, -1.2, -1.4, -0.9, -0.9, -0.55, -0.6, -0.3, -0.32, -0.18, -0.22, -0.24, -0.32, -0.45, -0.63, -0.81, -1.01, -1.21],
    [-1.7, -1.5, -1.7, -1.2, -1.1, -0.85, -0.8, -0.55, -0.5, -0.3, -0.25, -0.12, -0.1, -0.06, -0.09, -0.16, -0.25, -0.38, -0.56, -0.75, -0.95, -1.16],
]

X_TICKS = [1e-3, 1e-2, 1e-1, 1e0, 1e1]
X_TICKTEXT = ["10<sup>−3</sup>", "10<sup>−2</sup>", "10<sup>−1</sup>", "10<sup>0</sup>", "10<sup>1</sup>"]
Y_TICKS = [1e-4, 1e-2, 1e0]
Y_TICKTEXT = ["10<sup>−4</sup>", "10<sup>−2</sup>", "10<sup>0\u2007</sup>"]

# ---------------- styling ----------------
FITS = [FIT_L5, FIT_L4, FIT_L3, FIT_L2, FIT_L1]
MARKS = [MARK_L5, MARK_L4, MARK_L3, MARK_L2, MARK_L1]
GREY_SETS = [
    (GREY_LOGX, GREY_SHIFT, [GREY_L5, GREY_L4, GREY_L3, GREY_L2, GREY_L1]),
    (GREY_FINE_LOGX, GREY_FINE_SHIFT, [GREY_FINE_L5, GREY_FINE_L4, GREY_FINE_L3, GREY_FINE_L2, GREY_FINE_L1]),
    (GREY_MID_LOGX, GREY_MID_SHIFT, [GREY_MID_L5, GREY_MID_L4, GREY_MID_L3, GREY_MID_L2, GREY_MID_L1]),
]
COLORS = ["#FF1493", "#0000FF", "#008000", "#FF6347", "#696969"]
SYMBOLS = ["triangle-up", "diamond-tall", "triangle-left", "circle", "square"]
SIZES = [9, 8, 9, 8, 7]
GREY = "#C3C3C3"
FONT = "Liberation Sans, Arial, Helvetica, sans-serif"


def p10(vals):
    return [None if v is None else 10 ** v for v in vals]


fig = make_subplots(rows=5, cols=1, shared_xaxes=True, vertical_spacing=0)

for i in range(5):
    row = i + 1
    for grid, shifts, per_level in GREY_SETS:
        for line, sh in zip(per_level[i], shifts):
            fig.add_trace(go.Scatter(
                x=p10([g + sh for g in grid]), y=p10(line), mode="lines",
                line=dict(color=GREY, width=1), hoverinfo="skip", showlegend=False),
                row=row, col=1)
    fig.add_trace(go.Scatter(
        x=p10(FIT_LOGX), y=p10(FITS[i]), mode="lines",
        line=dict(color=COLORS[i], width=2.2, shape="spline", smoothing=0.6),
        showlegend=False), row=row, col=1)
    fig.add_trace(go.Scatter(
        x=p10([b + MARKER_SHIFT[i] for b in MARKER_BIN_LOG]), y=p10(MARKS[i]),
        mode="markers",
        marker=dict(symbol=SYMBOLS[i], size=SIZES[i], color="white",
                    line=dict(color=COLORS[i], width=1)),
        showlegend=False), row=row, col=1)
    fig.add_trace(go.Scatter(
        x=p10(FIT_LOGX), y=p10(DASHED_REF), mode="lines",
        line=dict(color="black", width=2.2, dash="9px,7px", shape="spline", smoothing=0.6),
        showlegend=False), row=row, col=1)

x_minor = []
for e in range(-4, 2):
    for m in range(2, 10):
        v = m * 10 ** e
        if 10 ** -3.216 < v < 10 ** 1.265:
            x_minor.append(v)

for i in range(5):
    row = i + 1
    fig.update_xaxes(
        type="log", range=[-3.216, 1.265], showline=True, linecolor="black", linewidth=1.2,
        mirror="ticks", ticks="inside", ticklen=5, tickwidth=1, tickcolor="black",
        tickvals=X_TICKS, ticktext=X_TICKTEXT, showgrid=False, zeroline=False,
        minor=dict(tickvals=x_minor, ticks="inside", ticklen=3, tickwidth=1,
                   tickcolor="black", showgrid=False),
        showticklabels=(row == 5), automargin=False, ticklabelstandoff=3,
        tickfont=dict(family=FONT, size=23, color="black"),
        row=row, col=1)
    fig.update_yaxes(
        type="log", range=[-4.316, 1.3], showline=True, linecolor="black", linewidth=1.2,
        mirror=False, ticks="inside", ticklen=4, tickwidth=1, tickcolor="black",
        tickvals=Y_TICKS, ticktext=Y_TICKTEXT, showgrid=False, zeroline=False,
        automargin=False, ticklabelstandoff=-6,
        tickfont=dict(family=FONT, size=23, color="black"),
        row=row, col=1)
    fig.add_annotation(
        text=LEVELS[i], xref="paper", x=0.961, xanchor="right",
        yref=f"y{'' if row == 1 else row} domain", y=0, yanchor="bottom", yshift=1,
        showarrow=False, font=dict(family=FONT, size=24, color="black"))

fig.update_xaxes(title=dict(text="n/ϕ<sub>m</sub>", font=dict(family=FONT, size=22, color="black"),
                            standoff=0), row=5, col=1)

fig.update_layout(
    width=529, height=906,
    margin=dict(l=64, r=0, t=63, b=69, autoexpand=False),
    paper_bgcolor="white", plot_bgcolor="white",
    title=dict(text="fS<sub>w</sub>/u<sup>2</sup><sub>*L</sub>(ϕ<sub>m</sub>/ϕ<sub>εw</sub>)<sup>2/3</sup>",
               x=0.5624, xanchor="center", y=1 - 32 / 906, yanchor="middle", yref="container",
               font=dict(family=FONT, size=24, color="black")),
    font=dict(family=FONT, color="black"),
)

# the page's default 8px body margin would shift the figure; remove it
fig.write_html("out.html", config={"displayModeBar": False},
               post_script="document.body.style.margin='0px';")
